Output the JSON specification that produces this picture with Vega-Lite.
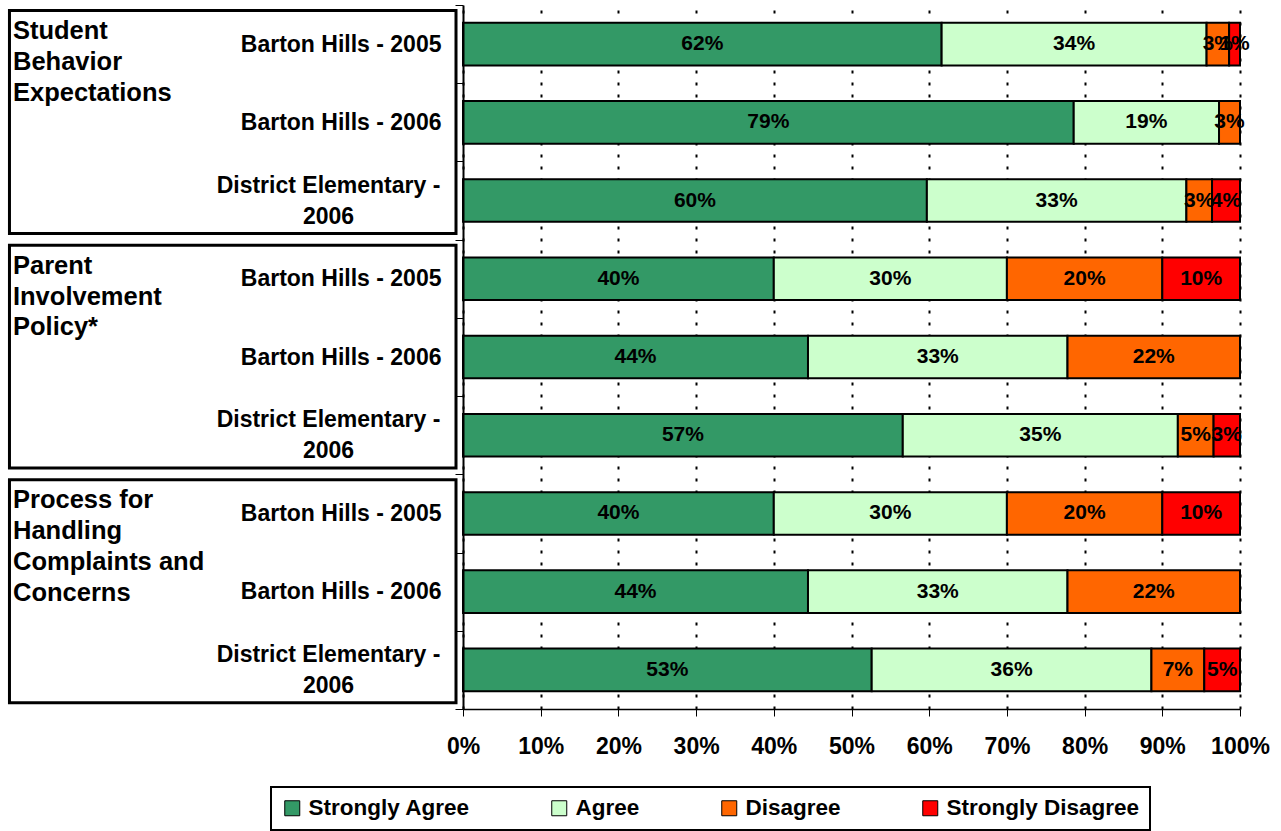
{
  "$schema": "https://vega.github.io/schema/vega-lite/v6.json",
  "width": 777,
  "height": 704,
  "padding": {"left": 7, "top": 4, "right": 5, "bottom": 0},
  "background": "white",
  "config": {
    "font": "Liberation Sans",
    "view": {"stroke": null},
    "axis": {"labelFont": "Liberation Sans", "labelFontWeight": "bold", "labelColor": "black", "domainColor": "black", "tickColor": "black"},
    "legend": {"strokeColor": "black", "strokeWidth": 2}
  },
  "datasets": {
    "responses": [
      {"key": "Student Behavior Expectations|Barton Hills - 2005", "response": "Strongly Agree", "rank": 1, "value": 0.616},
      {"key": "Student Behavior Expectations|Barton Hills - 2005", "response": "Agree", "rank": 2, "value": 0.341},
      {"key": "Student Behavior Expectations|Barton Hills - 2005", "response": "Disagree", "rank": 3, "value": 0.029},
      {"key": "Student Behavior Expectations|Barton Hills - 2005", "response": "Strongly Disagree", "rank": 4, "value": 0.014},
      {"key": "Student Behavior Expectations|Barton Hills - 2006", "response": "Strongly Agree", "rank": 1, "value": 0.786},
      {"key": "Student Behavior Expectations|Barton Hills - 2006", "response": "Agree", "rank": 2, "value": 0.187},
      {"key": "Student Behavior Expectations|Barton Hills - 2006", "response": "Disagree", "rank": 3, "value": 0.027},
      {"key": "Student Behavior Expectations|District Elementary - 2006", "response": "Strongly Agree", "rank": 1, "value": 0.597},
      {"key": "Student Behavior Expectations|District Elementary - 2006", "response": "Agree", "rank": 2, "value": 0.334},
      {"key": "Student Behavior Expectations|District Elementary - 2006", "response": "Disagree", "rank": 3, "value": 0.033},
      {"key": "Student Behavior Expectations|District Elementary - 2006", "response": "Strongly Disagree", "rank": 4, "value": 0.036},
      {"key": "Parent Involvement Policy*|Barton Hills - 2005", "response": "Strongly Agree", "rank": 1, "value": 0.40},
      {"key": "Parent Involvement Policy*|Barton Hills - 2005", "response": "Agree", "rank": 2, "value": 0.30},
      {"key": "Parent Involvement Policy*|Barton Hills - 2005", "response": "Disagree", "rank": 3, "value": 0.20},
      {"key": "Parent Involvement Policy*|Barton Hills - 2005", "response": "Strongly Disagree", "rank": 4, "value": 0.10},
      {"key": "Parent Involvement Policy*|Barton Hills - 2006", "response": "Strongly Agree", "rank": 1, "value": 0.444},
      {"key": "Parent Involvement Policy*|Barton Hills - 2006", "response": "Agree", "rank": 2, "value": 0.334},
      {"key": "Parent Involvement Policy*|Barton Hills - 2006", "response": "Disagree", "rank": 3, "value": 0.222},
      {"key": "Parent Involvement Policy*|District Elementary - 2006", "response": "Strongly Agree", "rank": 1, "value": 0.566},
      {"key": "Parent Involvement Policy*|District Elementary - 2006", "response": "Agree", "rank": 2, "value": 0.354},
      {"key": "Parent Involvement Policy*|District Elementary - 2006", "response": "Disagree", "rank": 3, "value": 0.046},
      {"key": "Parent Involvement Policy*|District Elementary - 2006", "response": "Strongly Disagree", "rank": 4, "value": 0.034},
      {"key": "Process for Handling Complaints and Concerns|Barton Hills - 2005", "response": "Strongly Agree", "rank": 1, "value": 0.40},
      {"key": "Process for Handling Complaints and Concerns|Barton Hills - 2005", "response": "Agree", "rank": 2, "value": 0.30},
      {"key": "Process for Handling Complaints and Concerns|Barton Hills - 2005", "response": "Disagree", "rank": 3, "value": 0.20},
      {"key": "Process for Handling Complaints and Concerns|Barton Hills - 2005", "response": "Strongly Disagree", "rank": 4, "value": 0.10},
      {"key": "Process for Handling Complaints and Concerns|Barton Hills - 2006", "response": "Strongly Agree", "rank": 1, "value": 0.444},
      {"key": "Process for Handling Complaints and Concerns|Barton Hills - 2006", "response": "Agree", "rank": 2, "value": 0.334},
      {"key": "Process for Handling Complaints and Concerns|Barton Hills - 2006", "response": "Disagree", "rank": 3, "value": 0.222},
      {"key": "Process for Handling Complaints and Concerns|District Elementary - 2006", "response": "Strongly Agree", "rank": 1, "value": 0.526},
      {"key": "Process for Handling Complaints and Concerns|District Elementary - 2006", "response": "Agree", "rank": 2, "value": 0.36},
      {"key": "Process for Handling Complaints and Concerns|District Elementary - 2006", "response": "Disagree", "rank": 3, "value": 0.068},
      {"key": "Process for Handling Complaints and Concerns|District Elementary - 2006", "response": "Strongly Disagree", "rank": 4, "value": 0.046}
    ],
    "groups": [
      {"group": "Student Behavior Expectations", "title": "Student\nBehavior\nExpectations", "first": "Student Behavior Expectations|Barton Hills - 2005", "last": "Student Behavior Expectations|District Elementary - 2006"},
      {"group": "Parent Involvement Policy*", "title": "Parent\nInvolvement\nPolicy*", "first": "Parent Involvement Policy*|Barton Hills - 2005", "last": "Parent Involvement Policy*|District Elementary - 2006"},
      {"group": "Process for Handling Complaints and Concerns", "title": "Process for\nHandling\nComplaints and\nConcerns", "first": "Process for Handling Complaints and Concerns|Barton Hills - 2005", "last": "Process for Handling Complaints and Concerns|District Elementary - 2006"}
    ]
  },
  "layer": [
    {
      "data": {"name": "groups"},
      "mark": {"type": "rect", "filled": false, "stroke": "black", "strokeWidth": 3},
      "encoding": {
        "x": {"datum": -0.5837, "type": "quantitative", "scale": {"domain": [0, 1], "nice": false}, "title": null},
        "x2": {"datum": -0.009},
        "y": {"field": "first", "type": "nominal", "bandPosition": 0.07, "title": null},
        "y2": {"field": "last", "bandPosition": 0.92}
      }
    },
    {
      "data": {"name": "groups"},
      "mark": {"type": "text", "align": "left", "baseline": "top", "fontSize": 25.5, "fontWeight": "bold", "lineBreak": "\n", "lineHeight": 30.8, "color": "black"},
      "encoding": {
        "x": {"datum": -0.5792, "type": "quantitative", "title": null},
        "y": {"field": "first", "type": "nominal", "bandPosition": 0.18, "title": null},
        "text": {"field": "title"}
      }
    },
    {
      "data": {"name": "responses"},
      "mark": {"type": "bar", "orient": "horizontal", "height": {"band": 0.545}, "stroke": "black", "strokeWidth": 2},
      "encoding": {
        "y": {
          "field": "key", "type": "nominal", "title": null,
          "scale": {
            "domain": [
              "Student Behavior Expectations|Barton Hills - 2005",
              "Student Behavior Expectations|Barton Hills - 2006",
              "Student Behavior Expectations|District Elementary - 2006",
              "Parent Involvement Policy*|Barton Hills - 2005",
              "Parent Involvement Policy*|Barton Hills - 2006",
              "Parent Involvement Policy*|District Elementary - 2006",
              "Process for Handling Complaints and Concerns|Barton Hills - 2005",
              "Process for Handling Complaints and Concerns|Barton Hills - 2006",
              "Process for Handling Complaints and Concerns|District Elementary - 2006"
            ],
            "paddingInner": 0, "paddingOuter": 0
          },
          "axis": {
            "title": null, "domain": true, "domainWidth": 2, "ticks": true, "tickBand": "extent", "tickSize": 8, "tickWidth": 1,
            "labelLimit": 400, "labelLineHeight": 31, "labelBaseline": "middle",
            "labelFontSize": {"condition": {"test": "datum.value == null", "value": 0}, "value": 23},
            "labelAlign": {"condition": {"test": "test(/District/, '' + datum.value)", "value": "center"}, "value": "right"},
            "labelPadding": {"condition": {"test": "test(/District/, '' + datum.value)", "value": 127}, "value": 14},
            "labelOffset": {"condition": {"test": "test(/District/, '' + datum.value)", "value": -15.5}, "value": 0},
            "labelExpr": "datum.value == null ? '' : test(/District/, '' + datum.value) ? ['District Elementary -', '2006'] : replace('' + datum.value, /^.*[|]/, '')"
          }
        },
        "x": {
          "field": "value", "type": "quantitative", "stack": "zero", "title": null,
          "scale": {"domain": [0, 1], "nice": false},
          "axis": {
            "title": null, "values": [0, 0.1, 0.2, 0.3, 0.4, 0.5, 0.6, 0.7, 0.8, 0.9, 1], "format": ".0%",
            "labelFontSize": 23, "labelPadding": 19, "labelFlush": false, "labelOverlap": false,
            "tickSize": 7, "tickWidth": 1, "domainWidth": 1.5,
            "grid": true, "gridColor": "black", "gridDash": [3, 9], "gridWidth": 2, "gridOpacity": 1
          }
        },
        "color": {
          "field": "response", "type": "nominal",
          "scale": {"domain": ["Strongly Agree", "Agree", "Disagree", "Strongly Disagree"], "range": ["#339966", "#CCFFCC", "#FF6600", "#FF0000"]},
          "legend": {
            "title": null, "orient": "none", "legendX": -192, "legendY": 782, "direction": "horizontal", "columns": 4, "gridAlign": "none",
            "columnPadding": 78, "padding": 10, "strokeColor": "black", "fillColor": "white",
            "symbolType": "square", "symbolSize": 225, "symbolStrokeColor": "black", "symbolStrokeWidth": 1, "symbolOpacity": 1,
            "labelFont": "Liberation Sans", "labelFontSize": 22.5, "labelFontWeight": "bold", "labelColor": "black", "labelOffset": 5, "labelLimit": 400
          }
        },
        "order": {"field": "rank"}
      }
    },
    {
      "data": {"name": "responses"},
      "mark": {"type": "text", "fontSize": 21, "fontWeight": "bold", "color": "black", "align": "center", "baseline": "middle"},
      "encoding": {
        "y": {"field": "key", "type": "nominal", "title": null},
        "x": {"field": "value", "type": "quantitative", "stack": "zero", "bandPosition": 0.5, "title": null},
        "detail": {"field": "response"},
        "order": {"field": "rank"},
        "text": {"field": "value", "type": "quantitative", "format": ".0%"}
      }
    }
  ]
}
